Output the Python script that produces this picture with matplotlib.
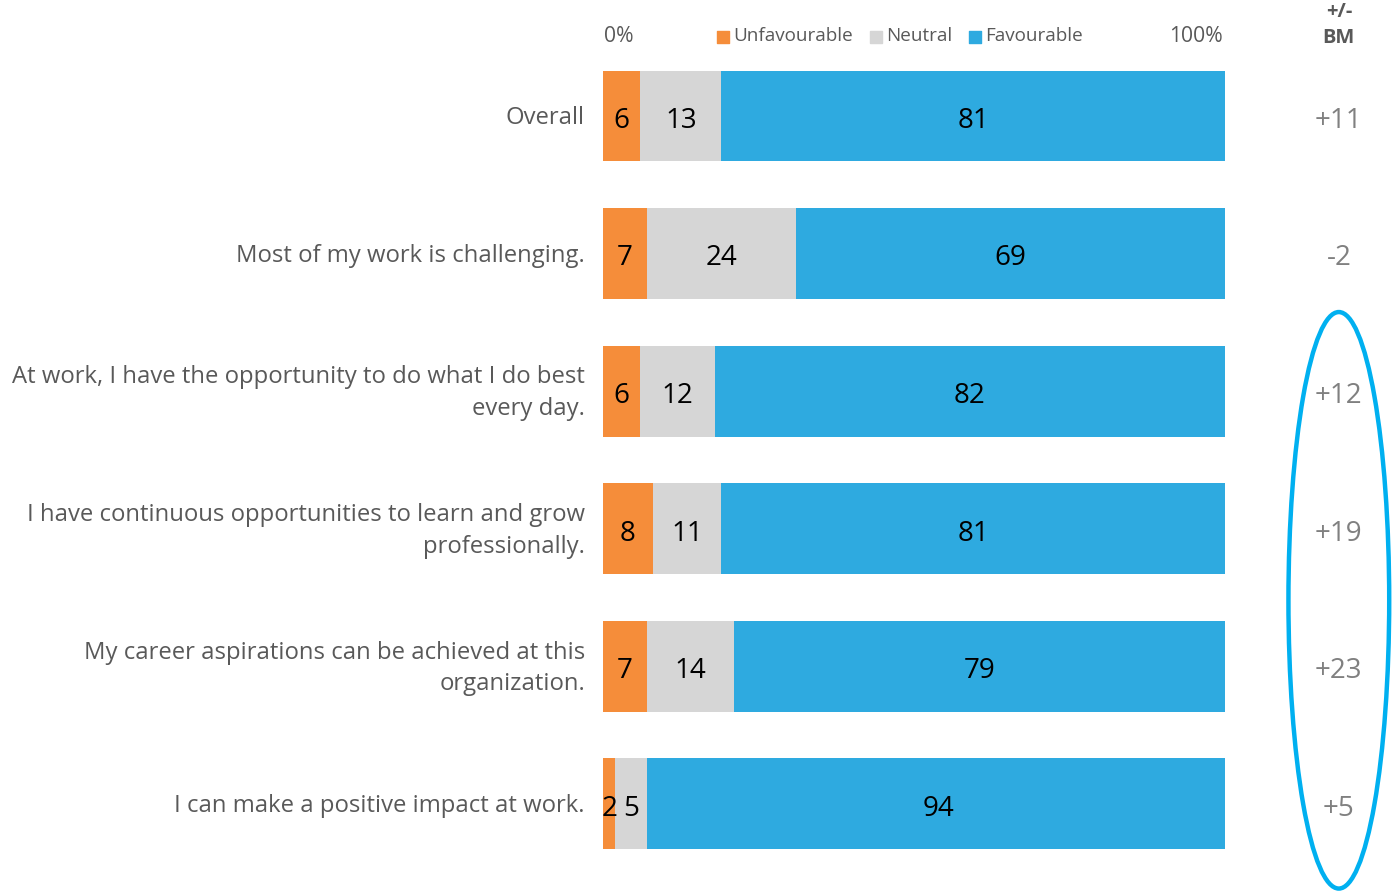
import matplotlib.pyplot as plt
from matplotlib.patches import Ellipse

plt.rcParams['font.family'] = ['Open Sans', 'DejaVu Sans']

questions = [
    "Overall",
    "Most of my work is challenging.",
    "At work, I have the opportunity to do what I do best\nevery day.",
    "I have continuous opportunities to learn and grow\nprofessionally.",
    "My career aspirations can be achieved at this\norganization.",
    "I can make a positive impact at work.",
]
unfav = [6, 7, 6, 8, 7, 2]
neutral = [13, 24, 12, 11, 14, 5]
fav = [81, 69, 82, 81, 79, 94]
bm = ["+11", "-2", "+12", "+19", "+23", "+5"]

c_unfav = '#F58D3A'
c_neu = '#D6D6D6'
c_fav = '#2EAAE0'
grey = '#595959'

fig = plt.figure(figsize=(13.93, 8.92), dpi=100)
ax = fig.add_axes([603/1393, 0, 622/1393, 1])
ax.set_xlim(0, 100)
ax.set_ylim(5.640, -0.843)
ax.axis('off')

pos = list(range(len(questions)))
h = 0.661
ax.barh(pos, unfav, height=h, color=c_unfav)
ax.barh(pos, neutral, left=unfav, height=h, color=c_neu)
left2 = [a + b for a, b in zip(unfav, neutral)]
ax.barh(pos, fav, left=left2, height=h, color=c_fav)

for i in pos:
    ax.text(unfav[i] / 2, i + 0.01, str(unfav[i]), ha='center', va='center_baseline', fontsize=20, color='black')
    ax.text(unfav[i] + neutral[i] / 2, i + 0.01, str(neutral[i]), ha='center', va='center_baseline', fontsize=20, color='black')
    ax.text(left2[i] + fav[i] / 2, i + 0.01, str(fav[i]), ha='center', va='center_baseline', fontsize=20, color='black')
    ax.text(-2.9, i + 0.015, questions[i], ha='right', va='center', multialignment='right',
            fontsize=17.2, color=grey, linespacing=1.42, clip_on=False)
    ax.text(118.3, i + 0.01, bm[i], ha='center', va='center_baseline', fontsize=20, color='#808080', clip_on=False)

# header row
ax.text(0.2, -0.58, "0%", ha='left', va='center', fontsize=15.2, color=grey)
ax.text(99.6, -0.58, "100%", ha='right', va='center', fontsize=15.2, color=grey)
legend_items = [("Unfavourable", c_unfav, 19.3), ("Neutral", c_neu, 43.9), ("Favourable", c_fav, 59.8)]
for name, col, x in legend_items:
    ax.scatter([x], [-0.575], marker='s', s=80, color=col, clip_on=False)
    ax.text(x + 1.6, -0.58, name, ha='left', va='center', fontsize=13.6, color=grey)
ax.text(118.3, -0.755, "+/-", ha='center', va='center', fontsize=14.5, color=grey, fontweight='bold')
ax.text(118.3, -0.565, "BM", ha='center', va='center', fontsize=14.5, color=grey, fontweight='bold')

ell = Ellipse((118.3, 3.52), width=16.2, height=4.19, fill=False,
              edgecolor='#00B0F0', linewidth=3.2, clip_on=False)
ax.add_patch(ell)

fig.savefig('out.png', dpi=100)
